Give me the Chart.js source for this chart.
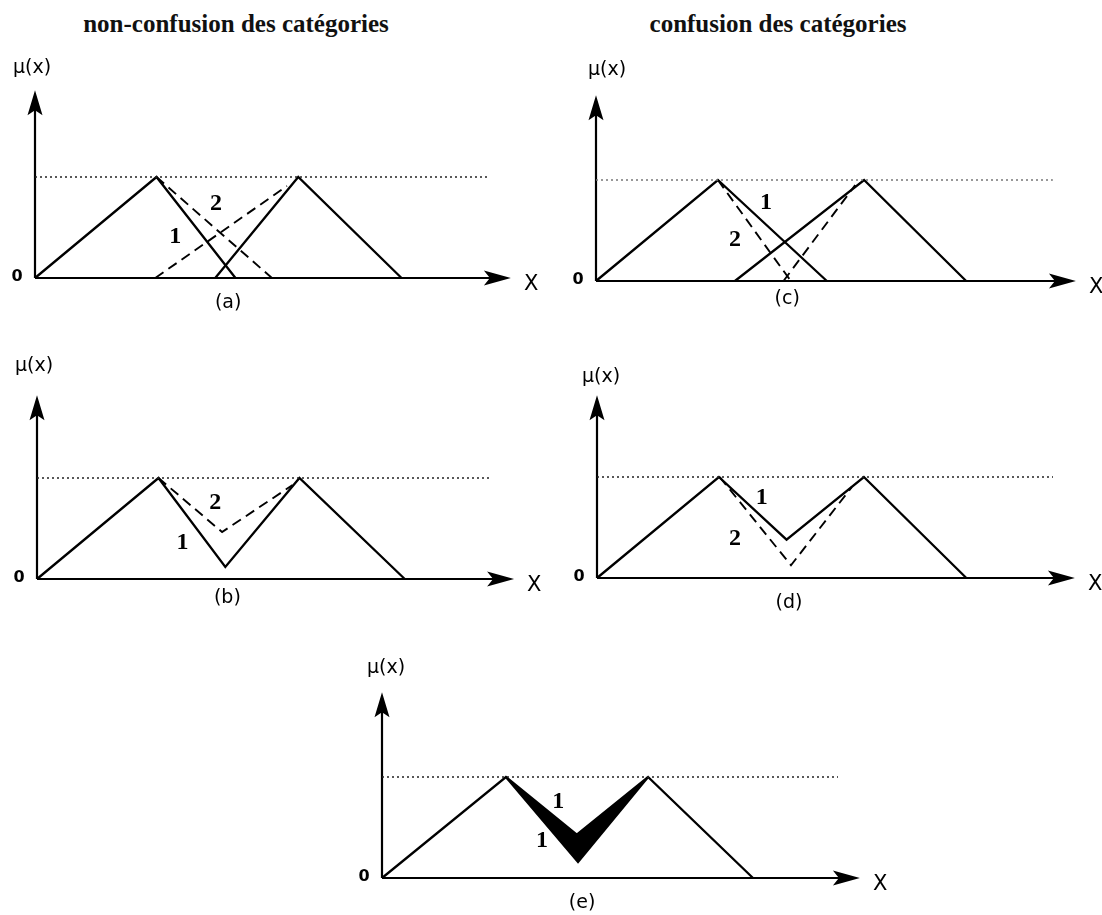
<!DOCTYPE html>
<html lang="fr">
<head>
<meta charset="utf-8">
<title>Confusion des catégories</title>
<script src="https://cdn.jsdelivr.net/npm/chart.js@4.4.1/dist/chart.umd.min.js"></script>
<style>
  html, body { margin: 0; padding: 0; background: #fff; }
  body { width: 1102px; height: 915px; position: relative; overflow: hidden; }
  .titre {
    position: absolute; top: 11px; transform: translateX(-50%);
    font: bold 25px/25px "Liberation Serif", "Times New Roman", serif;
    color: #111; white-space: nowrap;
  }
  canvas { position: absolute; }
</style>
</head>
<body>
<div class="titre" style="left:236px">non-confusion des catégories</div>
<div class="titre" style="left:778px">confusion des catégories</div>
<canvas id="pa"></canvas>
<canvas id="pb"></canvas>
<canvas id="pc"></canvas>
<canvas id="pd"></canvas>
<canvas id="pe"></canvas>
<script>
// membership degree reached at the peaks (dotted reference line)
const topLevel = 1;

// (a) separate categories, two readings of each edge
const a_cat1 = [[0, 0], [3, 1], [4.95, 0]];
const a_cat2 = [[4.45, 0], [6.5, 1], [9.05, 0]];
const a_alt1 = [[3, 1], [5.85, 0]];
const a_alt2 = [[2.97, 0], [6.22, 0.91]];

// (b) union of the two categories
const b_env1 = [[0, 0], [3, 1], [4.65, 0.12], [6.48, 1], [9.08, 0]];
const b_env2 = [[3, 1], [4.57, 0.465], [6.31, 0.93]];

// (c) overlapping categories
const c_cat1 = [[0, 0], [3.01, 1], [5.7, 0]];
const c_cat2 = [[3.43, 0], [6.62, 1], [9.14, 0]];
const c_alt1 = [[3.01, 1], [4.81, 0]];
const c_alt2 = [[4.63, 0], [6.4, 0.95]];

// (d) union, overlapping case
const d_env1 = [[0, 0], [3.01, 1], [4.68, 0.38], [6.59, 1], [9.12, 0]];
const d_env2 = [[3.03, 1], [4.79, 0.126], [6.29, 0.9]];

// (e) band between the two unions
const e_env1 = [[0, 0], [3.06, 1], [4.81, 0.43], [6.57, 1], [9.16, 0]];
const e_env2 = [[3.06, 1], [4.84, 0.16], [6.57, 1]];

// curve numbers: text, x, y
const a_marks = [['2', 4.47, 0.73], ['1', 3.46, 0.41]];
const b_marks = [['2', 4.4, 0.75], ['1', 3.59, 0.36]];
const c_marks = [['1', 4.2, 0.77], ['2', 3.43, 0.41]];
const d_marks = [['1', 4.07, 0.79], ['2', 3.41, 0.39]];
const e_marks = [['1', 4.35, 0.75], ['1', 3.95, 0.37]];

const xMax = 12, yMax = 2;      // data window of every panel
const pxPerX = 40.5, pxPerY = 101;

const toXY = pts => pts.map(([x, y]) => ({ x, y }));

const solid = pts => ({
    data: toXY(pts), borderColor: '#000', borderWidth: 2.3,
    pointRadius: 0, fill: false, clip: false, borderJoinStyle: 'miter'
});
const dashed = pts => ({ ...solid(pts), borderWidth: 1.9, borderDash: [10, 6] });
const dotted = (end, color) => ({
    ...solid([[0, topLevel], [end, topLevel]]),
    borderColor: color || '#222', borderWidth: 1.6, borderDash: [2, 3]
});

// axes with arrow heads and all the small texts
const decor = {
    id: 'decor',
    beforeDatasetsDraw(chart, args, o) {
        const { ctx, scales: { x, y } } = chart;
        const x0 = x.getPixelForValue(0), y0 = y.getPixelForValue(0);
        const xt = x.getPixelForValue(o.axisEnd[0]), yt = y.getPixelForValue(o.axisEnd[1]);
        ctx.save();
        ctx.strokeStyle = '#000';
        ctx.fillStyle = '#000';
        ctx.lineWidth = 2.2;
        ctx.beginPath();
        ctx.moveTo(x0, y0); ctx.lineTo(x0, yt + 15);
        ctx.moveTo(x0, y0); ctx.lineTo(xt - 15, y0);
        ctx.stroke();
        // y arrow
        ctx.beginPath();
        ctx.moveTo(x0, yt);
        ctx.lineTo(x0 + 7.5, yt + 25);
        ctx.lineTo(x0, yt + 20);
        ctx.lineTo(x0 - 7.5, yt + 25);
        ctx.closePath();
        ctx.fill();
        // x arrow
        ctx.beginPath();
        ctx.moveTo(xt, y0);
        ctx.lineTo(xt - 27, y0 - 7.5);
        ctx.lineTo(xt - 21, y0);
        ctx.lineTo(xt - 27, y0 + 7.5);
        ctx.closePath();
        ctx.fill();
        ctx.restore();
    },
    afterDatasetsDraw(chart, args, o) {
        const { ctx, scales: { x, y } } = chart;
        const x0 = x.getPixelForValue(0), y0 = y.getPixelForValue(0);
        const xt = x.getPixelForValue(o.axisEnd[0]), yt = y.getPixelForValue(o.axisEnd[1]);
        ctx.save();
        ctx.fillStyle = '#000';
        ctx.textBaseline = 'middle';
        ctx.textAlign = 'center';
        ctx.font = '19px "DejaVu Sans", sans-serif';
        ctx.fillText('\u03bc(x)', x0 + o.mu[0], yt + o.mu[1]);
        ctx.fillText(o.tag, x.getPixelForValue(o.tagX), y0 + o.tagDy);
        ctx.font = 'bold 16px "DejaVu Sans", sans-serif';
        ctx.fillText('0', x0 - 18, y0 - 1);
        ctx.font = '21px "DejaVu Sans", sans-serif';
        ctx.textAlign = 'left';
        ctx.fillText('X', xt + 13, y0 + 7);
        ctx.textAlign = 'center';
        ctx.font = 'bold 24px "Liberation Serif", "Times New Roman", serif';
        o.marks.forEach(([t, mx, my]) => ctx.fillText(t, x.getPixelForValue(mx), y.getPixelForValue(my)));
        ctx.restore();
    }
};

// canvas box [left, top, width, height] and axis origin in page pixels
const panels = [
    { id: 'pa', box: [0, 40, 560, 290], origin: [35, 278], tag: '(a)', tagX: 4.77, tagDy: 25,
      mu: [-3, -22], axisEnd: [11.75, 1.86], marks: a_marks,
      datasets: [dotted(11.19), solid(a_cat1), solid(a_cat2), dashed(a_alt1), dashed(a_alt2)] },
    { id: 'pb', box: [0, 340, 560, 280], origin: [37, 579], tag: '(b)', tagX: 4.7, tagDy: 19,
      mu: [-3, -29], axisEnd: [11.78, 1.82], marks: b_marks,
      datasets: [dotted(11.2), solid(b_env1), dashed(b_env2)] },
    { id: 'pc', box: [550, 40, 552, 290], origin: [596, 281], tag: '(c)', tagX: 4.72, tagDy: 18,
      mu: [11, -25], axisEnd: [11.85, 1.84], marks: c_marks,
      datasets: [dotted(11.28, '#777'), solid(c_cat1), solid(c_cat2), dashed(c_alt1), dashed(c_alt2)] },
    { id: 'pd', box: [550, 340, 552, 280], origin: [597, 578], tag: '(d)', tagX: 4.74, tagDy: 25,
      mu: [4, -18], axisEnd: [11.8, 1.81], marks: d_marks,
      datasets: [dotted(11.26), solid(d_env1), dashed(d_env2)] },
    { id: 'pe', box: [330, 640, 570, 275], origin: [382, 878], tag: '(e)', tagX: 4.94, tagDy: 25,
      mu: [4, -24], axisEnd: [11.8, 1.84], marks: e_marks,
      datasets: [dotted(11.26), solid(e_env1),
                 { ...solid(e_env2), fill: 1, backgroundColor: '#000' }] }
];

panels.forEach(p => {
    const [left, top, w, h] = p.box;
    const cv = document.getElementById(p.id);
    cv.width = w; cv.height = h;
    cv.style.left = left + 'px';
    cv.style.top = top + 'px';
    const padLeft = p.origin[0] - left;
    const padBottom = top + h - p.origin[1];
    new Chart(cv, {
        type: 'line',
        data: { datasets: p.datasets },
        options: {
            responsive: false,
            animation: false,
            events: [],
            layout: {
                padding: {
                    left: padLeft,
                    right: w - padLeft - xMax * pxPerX,
                    bottom: padBottom,
                    top: h - padBottom - yMax * pxPerY
                }
            },
            scales: {
                x: { type: 'linear', min: 0, max: xMax, display: false },
                y: { type: 'linear', min: 0, max: yMax, display: false }
            },
            plugins: {
                legend: { display: false },
                tooltip: { enabled: false },
                decor: { tag: p.tag, tagX: p.tagX, tagDy: p.tagDy, mu: p.mu, axisEnd: p.axisEnd, marks: p.marks }
            }
        },
        plugins: [decor]
    });
});
</script>
</body>
</html>
